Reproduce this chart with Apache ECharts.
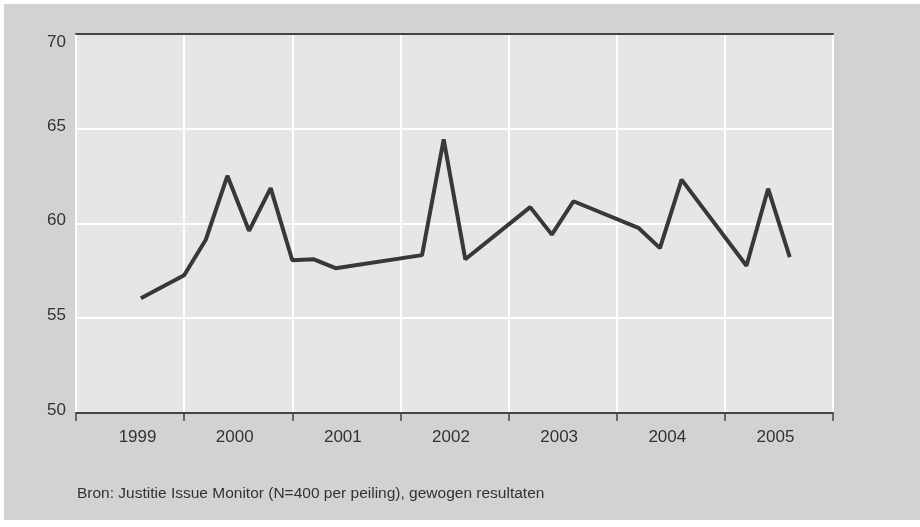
<!DOCTYPE html>
<html>
<head>
<meta charset="utf-8">
<script src="https://cdn.jsdelivr.net/npm/echarts@6/dist/echarts.min.js"></script>
<style>
  html, body { margin: 0; padding: 0; background: #ffffff; width: 920px; height: 527px; overflow: hidden; }
  #c { position: absolute; left: 4px; top: 4px; width: 916px; height: 516px; }
</style>
</head>
<body>
<div id="c"></div>
<script>
// Survey moments (decimal years) and values
const times = [1999.6, 2000.0, 2000.2, 2000.4, 2000.6, 2000.8, 2001.0, 2001.2, 2001.4,
               2002.2, 2002.4, 2002.6, 2003.2, 2003.4, 2003.6, 2004.2, 2004.4, 2004.6,
               2005.2, 2005.4, 2005.6];
const values = [56.05, 57.26, 59.13, 62.5, 59.6, 61.85, 58.05, 58.1, 57.63,
                58.32, 64.42, 58.1, 60.85, 59.4, 61.16, 59.76, 58.69, 62.3,
                57.76, 61.82, 58.21];
const yearLabels = ['1999', '2000', '2001', '2002', '2003', '2004', '2005'];
const yTicks = { min: 50, max: 70, interval: 5 };
const sourceText = 'Bron: Justitie Issue Monitor (N=400 per peiling), gewogen resultaten';

const FONT = "'Liberation Sans', Arial, sans-serif";
const TXT = '#333333';
const FS = 17;

const chart = echarts.init(document.getElementById('c'), null, { renderer: 'canvas' });
chart.setOption({
  animation: false,
  backgroundColor: '#d1d2d4',
  grid: {
    left: 72, right: 87, top: 29.5, bottom: 107,
    show: true, backgroundColor: '#e5e6e8', borderWidth: 0
  },
  xAxis: [
    {
      type: 'value', min: 1999, max: 2006, interval: 1, position: 'top',
      axisLine: { show: true, lineStyle: { color: '#444444', width: 2 } },
      axisTick: { show: false },
      axisLabel: { show: false },
      splitLine: { show: true, lineStyle: { color: '#ffffff', width: 2 } }
    },
    {
      type: 'category', data: yearLabels, position: 'bottom', boundaryGap: true,
      axisLine: { show: true, lineStyle: { color: '#444444', width: 2 } },
      axisTick: { show: true, length: 8, lineStyle: { color: '#444444', width: 1.5 } },
      axisLabel: {
        color: TXT, fontSize: FS, fontFamily: FONT, margin: 16,
        formatter: (v, i) => i === 0 ? '{a|' + v + '}' : '{b|' + v + '}',
        rich: {
          a: { color: TXT, fontSize: FS, fontFamily: FONT, padding: [0, 0, 0, 15] },
          b: { color: TXT, fontSize: FS, fontFamily: FONT, padding: [0, 7, 0, 0] }
        }
      },
      splitLine: { show: false }
    }
  ],
  yAxis: {
    type: 'value', min: yTicks.min, max: yTicks.max, interval: yTicks.interval,
    axisLine: { show: false },
    axisTick: { show: false },
    splitLine: { show: true, lineStyle: { color: '#ffffff', width: 2 } },
    axisLabel: {
      margin: 10, color: TXT, fontSize: FS, fontFamily: FONT,
      formatter: v => v === 70 ? '{t|' + v + '}' : '{n|' + v + '}',
      rich: {
        t: { color: TXT, fontSize: FS, fontFamily: FONT, padding: [18, 0, 0, 0] },
        n: { color: TXT, fontSize: FS, fontFamily: FONT, padding: [0, 0, 5, 0] }
      }
    }
  },
  series: [{
    type: 'line',
    xAxisIndex: 0,
    data: times.map((t, i) => [t, values[i]]),
    symbol: 'none',
    lineStyle: { color: '#383838', width: 4, join: 'bevel' },
    z: 5
  }],
  graphic: [{
    type: 'text', left: 73, top: 482,
    style: { text: sourceText, fill: TXT, font: '15.5px ' + FONT }
  }]
});
</script>
</body>
</html>
